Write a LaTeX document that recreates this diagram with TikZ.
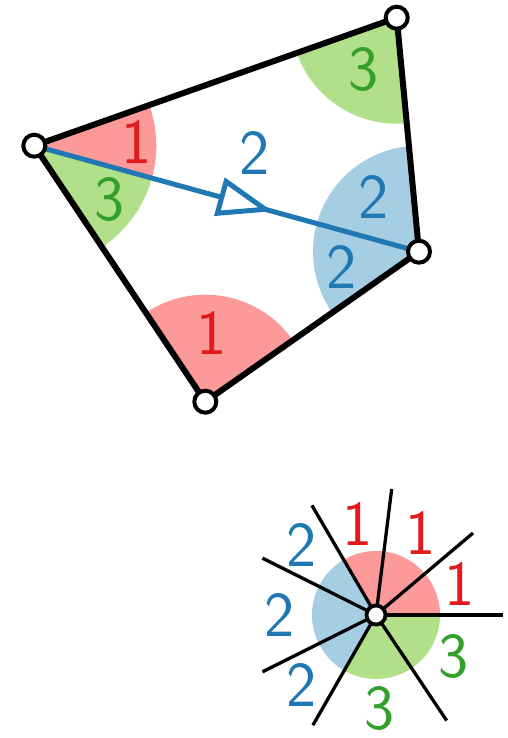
\documentclass[tikz,border=0pt]{standalone}
\usetikzlibrary{calc}
\definecolor{redfill}{HTML}{FB9A99}
\definecolor{redtext}{HTML}{E31A1C}
\definecolor{greenfill}{HTML}{B2DF8A}
\definecolor{greentext}{HTML}{33A02C}
\definecolor{bluefill}{HTML}{A6CEE3}
\definecolor{bluetext}{HTML}{1F78B4}
\tikzset{
  vtx/.style={circle, draw=black, fill=white, line width=4pt, inner sep=0pt, minimum size=22pt},
  hub/.style={vtx, line width=3.8pt, minimum size=19pt},
  edge/.style={line width=6pt},
  diag/.style={line width=5pt, bluetext},
  ray/.style={line width=3.3pt},
  lbl/.style={font=\sffamily\fontsize{64}{64}\selectfont, inner sep=0pt}
}

\begin{document}
\begin{tikzpicture}[x=1pt, y=1pt]
    \useasboundingbox (0,0) rectangle (508,-738);

    % 1. Các đỉnh của tứ giác
    \coordinate (A) at (34.3,-145.7);
    \coordinate (B) at (396.7,-17.7);
    \coordinate (C) at (419,-251.7);
    \coordinate (D) at (205.3,-401.7);

    % 2. Các hình quạt góc
    \fill[redfill] (A) -- ++(-15.4:122) arc[start angle=-15.4, end angle=19.45, radius=122] -- cycle;
    \fill[greenfill] (A) -- ++(-56.26:122) arc[start angle=-56.26, end angle=-15.4, radius=122] -- cycle;
    \fill[greenfill] (B) -- ++(199.45:106) arc[start angle=199.45, end angle=275.44, radius=106] -- cycle;
    \fill[bluefill] (C) -- ++(95.44:106) arc[start angle=95.44, end angle=215.07, radius=106] -- cycle;
    \fill[redfill] (D) -- ++(35.07:107) arc[start angle=35.07, end angle=123.74, radius=107] -- cycle;

    % 3. Các cạnh
    \draw[edge] (A) -- (B) -- (C) -- (D) -- cycle;

    % 4. Đường chéo AC có mũi tên rỗng
    \coordinate (T) at ($(A)!0.6!(C)$);
    \coordinate (K) at ($(T)!45pt!(A)$);
    \coordinate (K1) at ($(K)!16.5pt!90:(T)$);
    \coordinate (K2) at ($(K)!16.5pt!-90:(T)$);
    \draw[diag] (A) -- (K);
    \draw[diag, miter limit=20] (K1) -- (T) -- (K2) -- cycle;
    \draw[diag] (T) -- (C);

    % 5. Các đỉnh (nút tròn)
    \node[vtx] (a) at (A) {};
    \node[vtx] (b) at (B) {};
    \node[vtx] (c) at (C) {};
    \node[vtx] (d) at (D) {};

    % 6. Các nhãn
    \node[lbl, redtext] (la1) at ($(A)+(2:102)$) {1};
    \node[lbl, greentext] (la3) at ($(A)+(-35.7:93)$) {3};
    \node[lbl, greentext] (lb3) at ($(B)+(237.4:62)$) {3};
    \node[lbl, bluetext] (lc2) at ($(C)+(129.7:71.5)$) {2};
    \node[lbl, bluetext] (lc2b) at ($(C)+(191:78.7)$) {2};
    \node[lbl, redtext] (ld1) at ($(D)+(84.6:68.7)$) {1};
    \node[lbl, bluetext] (lm2) at (255,-153.3) {2};

    % 7. Hình sao bên dưới
    \coordinate (S) at (376,-615);
    \fill[redfill] (S) -- ++(0:64) arc[start angle=0, end angle=120.3, radius=64] -- cycle;
    \fill[bluefill] (S) -- ++(120.3:64) arc[start angle=120.3, end angle=240.2, radius=64] -- cycle;
    \fill[greenfill] (S) -- ++(240.2:64) arc[start angle=240.2, end angle=360, radius=64] -- cycle;
    \foreach \a [count=\i] in {0,40.2,82.9,120.3,153.4,206.6,240.2,303.8} {
        \coordinate (r\i) at ($(S)+(\a:127)$);
        \draw[ray] (S) -- (r\i);
    }
    \node[hub] (s) at (S) {};

    % 8. Nhãn quanh hình sao
    \foreach \a/\r/\t/\c [count=\i] in {20.1/89/1/redtext, 61.5/93/1/redtext, 101.6/93/1/redtext,
        136.8/102/2/bluetext, 180/96/2/bluetext, 223.4/102/2/bluetext,
        272/94/3/greentext, 331.9/88/3/greentext}
        \node[lbl, text=\c] (sl\i) at ($(S)+(\a:\r)$) {\t};

\end{tikzpicture}
\end{document}
